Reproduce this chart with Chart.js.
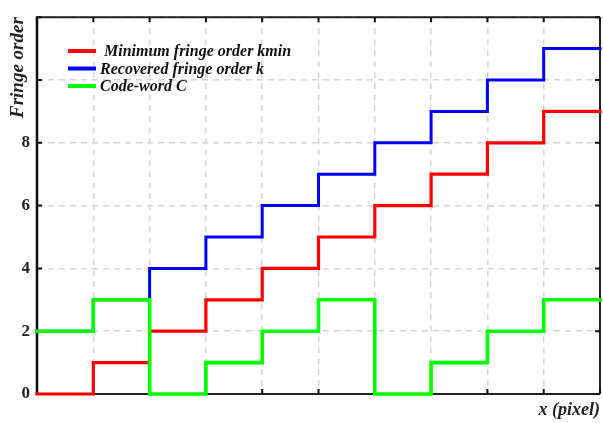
<!DOCTYPE html>
<html>
<head>
<meta charset="utf-8">
<script src="https://cdn.jsdelivr.net/npm/chart.js@4/dist/chart.umd.min.js"></script>
<style>
  html, body { margin: 0; padding: 0; background: #fff; }
  #wrap { width: 603px; height: 423px; }
</style>
</head>
<body>
<div id="wrap"><canvas id="c" width="603" height="423"></canvas></div>
<script>
// Step positions along x (pixel units); each value holds from x to x+1
const steps = [0, 1, 2, 3, 4, 5, 6, 7, 8, 9];
const kmin = [0, 1, 2, 3, 4, 5, 6, 7, 8, 9];
const kRecovered = [2, 3, 4, 5, 6, 7, 8, 9, 10, 11];
const codeWord = [2, 3, 0, 1, 2, 3, 0, 1, 2, 3];
const yTickLabels = ['0', '2', '4', '6', '8'];
const seriesLabels = [' Minimum fringe order kmin', 'Recovered fringe order k', 'Code-word C'];
const seriesColors = ['#ff0000', '#0000ff', '#00ff00'];
const seriesWidths = [3.2, 3.0, 3.6];

const SERIF = '"Liberation Serif", "Times New Roman", "DejaVu Serif", serif';

// stepped series: repeat last value at the right end so the final step is drawn
function toPoints(vals) {
  const pts = steps.map((x, i) => ({ x: x, y: vals[i] }));
  pts.push({ x: steps[steps.length - 1] + 1, y: vals[vals.length - 1] });
  return pts;
}

// Frame with inward tick marks, drawn above the grid and below the lines
const framePlugin = {
  id: 'frame',
  beforeDatasetsDraw(chart) {
    const { ctx, chartArea: a, scales } = chart;
    ctx.save();
    ctx.strokeStyle = '#222';
    ctx.lineWidth = 2;
    ctx.beginPath();
    ctx.moveTo(a.left, a.top); ctx.lineTo(a.right, a.top);
    ctx.moveTo(a.right, a.top); ctx.lineTo(a.right, a.bottom);
    ctx.moveTo(a.left, a.bottom); ctx.lineTo(a.right, a.bottom);
    ctx.stroke();
    ctx.lineWidth = 2.6;
    ctx.strokeStyle = '#111';
    ctx.beginPath();
    ctx.moveTo(a.left, a.top - 1); ctx.lineTo(a.left, a.bottom + 1);
    ctx.stroke();
    const t = 5;
    ctx.lineWidth = 2;
    ctx.beginPath();
    scales.x.ticks.forEach(tk => {
      const px = scales.x.getPixelForValue(tk.value);
      ctx.moveTo(px, a.top); ctx.lineTo(px, a.top + t);
      ctx.moveTo(px, a.bottom); ctx.lineTo(px, a.bottom - t);
    });
    scales.y.ticks.forEach(tk => {
      const py = scales.y.getPixelForValue(tk.value);
      ctx.moveTo(a.left, py); ctx.lineTo(a.left + t, py);
      ctx.moveTo(a.right, py); ctx.lineTo(a.right - t, py);
    });
    ctx.stroke();
    ctx.restore();
  }
};

// Legend placed inside the plot area, top-left
const insideLegend = {
  id: 'insideLegend',
  afterDatasetsDraw(chart) {
    const { ctx } = chart;
    const x0 = 68, x1 = 96, tx = 100, y0 = 51, dy = 17.5;
    ctx.save();
    ctx.font = 'italic bold 16px ' + SERIF;
    ctx.textBaseline = 'middle';
    ctx.textAlign = 'left';
    chart.data.datasets.forEach((ds, i) => {
      const y = y0 + i * dy;
      ctx.strokeStyle = ds.borderColor;
      ctx.lineWidth = 4;
      ctx.beginPath();
      ctx.moveTo(x0, y); ctx.lineTo(x1, y);
      ctx.stroke();
      ctx.fillStyle = '#111';
      ctx.fillText(ds.label, tx, y + 1);
    });
    ctx.restore();
  }
};

const datasets = [
  { label: seriesLabels[0], data: toPoints(kmin), borderColor: seriesColors[0], borderWidth: seriesWidths[0], order: 1 },
  { label: seriesLabels[1], data: toPoints(kRecovered), borderColor: seriesColors[1], borderWidth: seriesWidths[1], order: 2 },
  { label: seriesLabels[2], data: toPoints(codeWord), borderColor: seriesColors[2], borderWidth: seriesWidths[2], order: 0 }
].map(d => Object.assign(d, {
  stepped: 'before',
  pointRadius: 0,
  fill: false,
  clip: false,
  borderCapStyle: 'square',
  borderJoinStyle: 'miter'
}));

new Chart(document.getElementById('c'), {
  type: 'line',
  data: { datasets },
  options: {
    responsive: false,
    animation: false,
    layout: { padding: { top: 16, right: 3, left: 0, bottom: 0 } },
    plugins: {
      legend: { display: false },
      tooltip: { enabled: false }
    },
    scales: {
      x: {
        type: 'linear',
        min: 0, max: 10,
        ticks: { display: false, stepSize: 1 },
        grid: { color: '#d6d6d6', lineWidth: 1.5, drawTicks: false },
        border: { display: false, dash: [6, 5] },
        title: {
          display: true, text: 'x (pixel)', align: 'end',
          color: '#222',
          font: { family: SERIF, size: 18, style: 'italic', weight: 'bold' },
          padding: { top: 0, bottom: 2 }
        },
        afterFit(s) { s.height = 29; }
      },
      y: {
        type: 'linear',
        min: 0, max: 12,
        ticks: {
          stepSize: 2, padding: 7, color: '#222',
          font: { family: SERIF, size: 17, weight: 'bold' },
          callback: (v) => yTickLabels.includes(String(v)) ? String(v) : ''
        },
        grid: { color: '#d6d6d6', lineWidth: 1.5, drawTicks: false },
        border: { display: false, dash: [6, 5] },
        title: {
          display: true, text: 'Fringe order', align: 'end',
          color: '#222',
          font: { family: SERIF, size: 19, style: 'italic', weight: 'bold' },
          padding: { top: 7, bottom: 0 }
        },
        afterFit(s) { s.width = 37; }
      }
    }
  },
  plugins: [framePlugin, insideLegend]
});
</script>
</body>
</html>
